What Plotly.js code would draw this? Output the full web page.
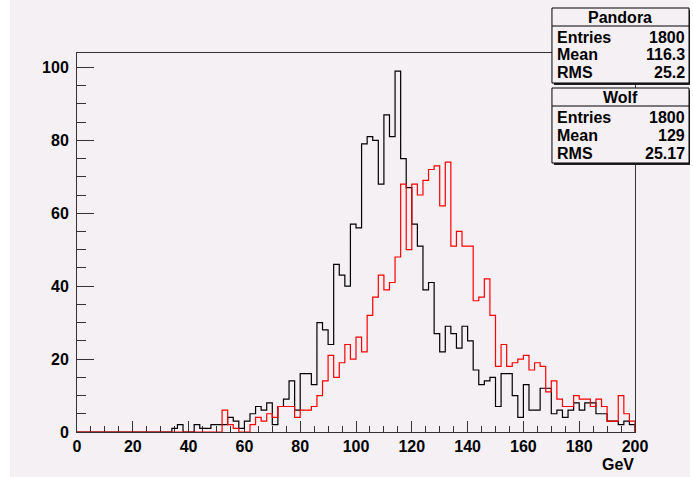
<!DOCTYPE html>
<html>
<head>
<meta charset="utf-8">
<script src="https://cdn.plot.ly/plotly-3.0.1.min.js"></script>
<style>
html,body{margin:0;padding:0;background:#ffffff;}
#chart{position:absolute;left:10px;top:0px;width:680px;height:477px;}
</style>
</head>
<body>
<div id="chart"></div>
<script>
// Histogram definition: 100 bins of 2 GeV from 0 to 200
var xMin = 0, binWidth = 2;
// Pandora (black) bin contents
var pandora = [
 0,0,0,0,0,0,0,0,0,0, 0,0,0,0,0,0,0,1,2,0,
 0,2,1,1,2,2,2,4,3,1, 3,5,7,6,8,2,7,9,14,6,
 16,16,13,30,28,24,46,43,40,57, 56,79,81,80,68,87,81,99,75,67,
 57,51,39,41,27,22,29,27,23,29, 25,17,13,14,15,7,16,16,10,4,
 13,6,6,12,12,5,6,4,6,8, 6,8,8,5,5,3,3,2,3,2
];
// Wolf (red) bin contents
var wolf = [
 0,0,0,0,0,0,0,0,0,0, 0,0,0,0,0,0,0,0,0,0,
 0,0,0,0,0,0,6,2,1,0, 0,2,4,3,5,4,7,7,7,4,
 6,6,7,10,14,21,15,19,24,20, 26,22,32,37,43,39,41,48,68,50,
 68,65,69,72,73,62,74,51,55,51, 51,36,37,42,32,18,24,18,19,20,
 21,17,19,18,11,14,9,7,7,10, 9,9,7,9,7,3,3,10,5,3
];
var seriesNames = ['Pandora', 'Wolf'];
var statEntries = ['1800', '1800'];
var statMean = ['116.3', '129'];
var statRMS = ['25.2', '25.17'];
var xTickVals = [0,20,40,60,80,100,120,140,160,180,200];
var yTickVals = [0,20,40,60,80,100];
var xLabel = 'GeV';

function outline(vals){
  var xs=[xMin], ys=[0];
  for(var i=0;i<vals.length;i++){ xs.push(xMin+i*binWidth); ys.push(vals[i]); }
  xs.push(xMin+vals.length*binWidth); ys.push(vals[vals.length-1]);
  xs.push(xMin+vals.length*binWidth); ys.push(0);
  return {x:xs,y:ys};
}
var o1 = outline(pandora), o2 = outline(wolf);
var traces = [
  {x:o1.x,y:o1.y,type:'scatter',mode:'lines',line:{shape:'hv',color:'#000000',width:1.2},cliponaxis:false,hoverinfo:'skip',name:seriesNames[0]},
  {x:o2.x,y:o2.y,type:'scatter',mode:'lines',line:{shape:'hv',color:'#ff0000',width:1.2},cliponaxis:false,hoverinfo:'skip',name:seriesNames[1]}
];

// page pixel -> paper coordinates
var H=477;
var PL=77.3, PR=635, PT=53, PB=432;
function px(x){return (x-PL)/(PR-PL);}
function py(y){return (PB-y)/(PB-PT);}

var bg='#f4f0f4';
var font={family:'Liberation Sans, Arial, sans-serif',size:16,color:'#000',weight:'bold'};
var shapes=[], ann=[];
var boxes=[{t:8,b:83},{t:88,b:163}];
var bx0=552, bx1=689;
for(var k=0;k<2;k++){
  var b=boxes[k];
  shapes.push({type:'rect',xref:'paper',yref:'paper',x0:px(bx0+2),x1:px(bx1+2),y0:py(b.b+2),y1:py(b.t+2),fillcolor:'#222',line:{width:0},layer:'above'});
  shapes.push({type:'rect',xref:'paper',yref:'paper',x0:px(bx0),x1:px(bx1),y0:py(b.b),y1:py(b.t),fillcolor:bg,line:{color:'#000',width:1},layer:'above'});
  shapes.push({type:'line',xref:'paper',yref:'paper',x0:px(bx0),x1:px(bx1),y0:py(b.t+18),y1:py(b.t+18),line:{color:'#000',width:1},layer:'above'});
  ann.push({xref:'paper',yref:'paper',x:px((bx0+bx1)/2),y:py(b.t+9.5),text:seriesNames[k],showarrow:false,xanchor:'center',yanchor:'middle',font:font});
  var labels=['Entries','Mean','RMS'], vals=[statEntries[k],statMean[k],statRMS[k]];
  for(var r=0;r<3;r++){
    var yy=b.t+29+r*18;
    ann.push({xref:'paper',yref:'paper',x:px(bx0+3),y:py(yy),text:labels[r],showarrow:false,xanchor:'left',yanchor:'middle',font:font});
    ann.push({xref:'paper',yref:'paper',x:px(bx1-2),y:py(yy),text:vals[r],showarrow:false,xanchor:'right',yanchor:'middle',font:font});
  }
}
ann.push({xref:'paper',yref:'paper',x:px(636),y:py(464),text:xLabel,showarrow:false,xanchor:'right',yanchor:'middle',font:font});

var layout={
  width:680,height:H,
  paper_bgcolor:bg,plot_bgcolor:bg,
  margin:{l:PL-10,r:680-(PR-10),t:PT,b:H-PB},
  showlegend:false,
  xaxis:{range:[0,200],tickvals:xTickVals,ticks:'inside',ticklen:11,tickcolor:'#333',tickwidth:1,
    showline:true,linecolor:'#333',linewidth:1,mirror:true,showgrid:false,zeroline:false,
    tickfont:font,layer:'below traces',
    minor:{dtick:5,ticks:'inside',ticklen:6,tickcolor:'#333',showgrid:false}},
  yaxis:{range:[0,103.95],tickvals:yTickVals,ticks:'inside',ticklen:17,tickcolor:'#333',tickwidth:1,
    showline:true,linecolor:'#333',linewidth:1,mirror:true,showgrid:false,zeroline:false,
    tickfont:font,layer:'below traces',ticklabelstandoff:4,
    minor:{dtick:5,ticks:'inside',ticklen:8.5,tickcolor:'#333',showgrid:false}},
  shapes:shapes,annotations:ann
};
Plotly.newPlot('chart',traces,layout,{staticPlot:true,displayModeBar:false});
</script>
</body>
</html>
